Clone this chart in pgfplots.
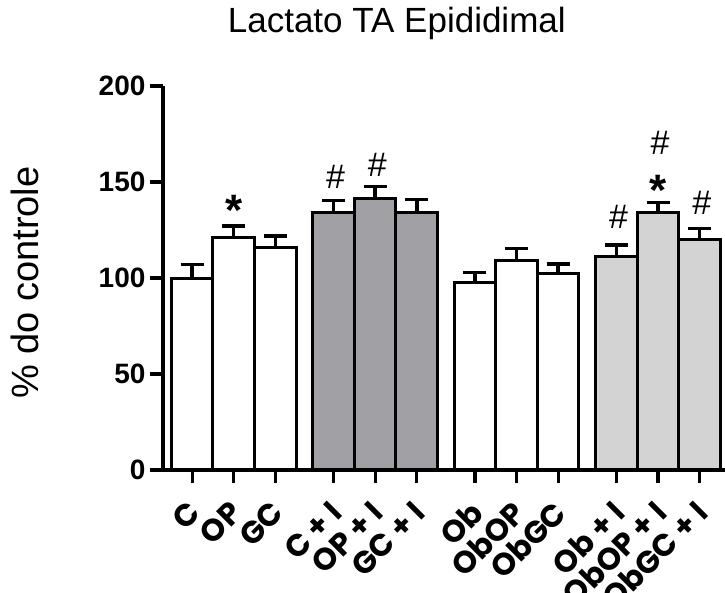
\documentclass[border=0pt]{standalone}
\usepackage{pgfplots}
\pgfplotsset{compat=1.18}
\usepackage{fontspec}
\setmainfont{Liberation Sans}
\newfontfamily\xfont{Poppins}
\definecolor{darkbar}{RGB}{160,160,165}
\definecolor{lightbar}{RGB}{211,211,211}
\pgfplotsset{
  every error bar/.append style={line width=3.5pt, black},
  mybar/.style={ybar, bar width=1, bar shift=0pt, draw=black, line width=3pt,
    error bars/y dir=plus, error bars/y explicit,
    error bars/error bar style={line width=3.5pt, black},
    error bars/error mark=|,
    error bars/error mark options={line width=3.5pt, mark size=11.5pt, black}},
}
\begin{document}
\begin{tikzpicture}
\path[use as bounding box] (-163pt,-122pt) rectangle (562pt,470pt);
\begin{axis}[
  at={(0pt,0pt)}, anchor=south west,
  scale only axis, width=562pt, height=384pt,
  xmin=-0.7, xmax=12.81, ymin=0, ymax=200,
  axis x line=bottom, axis y line=left,
  axis line style={-, line width=3.2pt},
  ytick={0,50,100,150,200},
  xtick={0,1,2,3.4,4.4,5.4,6.8,7.8,8.8,10.2,11.2,12.2},
  xticklabels={C,OP,GC,C + I,OP + I,GC + I,Ob,ObOP,ObGC,Ob + I,ObOP + I,ObGC + I},
  tick align=outside, xtick align=outside, ytick align=outside,
  major tick length=13pt,
  tick style={line width=3.2pt, black},
  axis on top,
  /pgf/number format/assume math mode=true,
  yticklabel style={font=\fontsize{28}{28}\selectfont\bfseries, xshift=-1pt},
  xticklabel style={font=\xfont\bfseries\fontsize{31}{31}\selectfont, rotate=45, anchor=east, xshift=-12pt, yshift=-19pt},
  title={Lactato TA Epididimal},
  title style={font=\fontsize{35}{35}\selectfont, at={(axis description cs:0.416,1.148)}, anchor=center},
  ylabel={\% do controle},
  ylabel style={font=\fontsize{38}{38}\selectfont, at={(axis description cs:-0.2456,0.488)}, anchor=center},
  clip=false,
]
\addplot[mybar, fill=white]
  table[x=x, y=y, y error=e] {
x y e
0 100 7
1 121.2 6
2 115.8 6
6.8 97.6 5.2
7.8 108.9 6.4
8.8 102.4 5
};
\addplot[mybar, fill=darkbar]
  table[x=x, y=y, y error=e] {
x y e
3.4 134.2 6.1
4.4 141.5 6.1
5.4 133.9 7.1
};
\addplot[mybar, fill=lightbar]
  table[x=x, y=y, y error=e] {
x y e
10.2 111.1 6.2
11.2 134.2 5
12.2 119.8 5.9
};
\node[font=\fontsize{34}{34}\selectfont] at (axis cs:3.45,152.6) {\#};
\node[font=\fontsize{34}{34}\selectfont] at (axis cs:4.45,158.9) {\#};
\node[font=\fontsize{34}{34}\selectfont] at (axis cs:10.25,131.8) {\#};
\node[font=\fontsize{34}{34}\selectfont] at (axis cs:11.25,170.3) {\#};
\node[font=\fontsize{34}{34}\selectfont] at (axis cs:12.25,139) {\#};
\node[font=\fontsize{44}{44}\selectfont\bfseries] at (axis cs:1,135) {*};
\node[font=\fontsize{44}{44}\selectfont\bfseries] at (axis cs:11.2,145.5) {*};
\end{axis}
\end{tikzpicture}
\end{document}
